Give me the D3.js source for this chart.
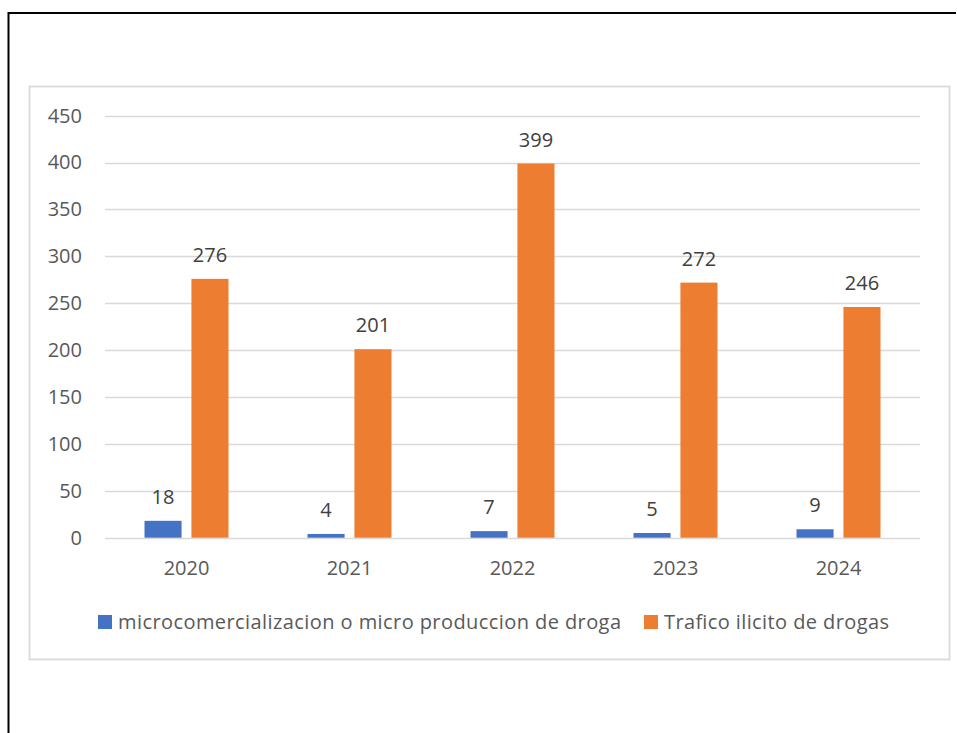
<!DOCTYPE html>
<html>
<head>
<meta charset="utf-8">
<script src="https://cdn.jsdelivr.net/npm/d3@7"></script>
<style>
  html, body { margin: 0; padding: 0; background: #fff; overflow: hidden; }
  svg { display: block; font-family: "Open Sans", sans-serif; }
</style>
</head>
<body>
<div id="chart"></div>
<script>
// data
let years = ["2020", "2021", "2022", "2023", "2024"];
let microValues = [18, 4, 7, 5, 9];
let traficoValues = [276, 201, 399, 272, 246];
let seriesNames = ["microcomercializacion o micro produccion de droga", "Trafico ilicito de drogas"];
let seriesColors = ["#4472C4", "#ED7D31"];
let yTickValues = [0, 50, 100, 150, 200, 250, 300, 350, 400, 450];

let width = 957, height = 733;
let fontSize = 20;

let svg = d3.select("#chart").append("svg")
    .attr("width", width)
    .attr("height", height);

// outer black frame, only its top and left edges are on the page
let frame = d3.path();
frame.moveTo(8.5, height);
frame.lineTo(8.5, 13);
frame.lineTo(width - 1, 13);
svg.append("path")
    .attr("d", frame.toString())
    .attr("fill", "none")
    .attr("stroke", "#000")
    .attr("stroke-width", 2);

// chart area border
svg.append("rect")
    .attr("x", 29.5).attr("y", 86.5)
    .attr("width", 920).attr("height", 573)
    .attr("fill", "#fff")
    .attr("stroke", "#d9d9d9")
    .attr("stroke-width", 1.8);

let plotLeft = 105, plotRight = 920;

let y = d3.scaleLinear()
    .domain([0, 450])
    .range([537.7, 115.7]);

let x0 = d3.scaleBand()
    .domain(years)
    .range([plotLeft, plotRight]);

let groupWidth = 84;
let x1 = d3.scaleBand()
    .domain(seriesNames)
    .range([(x0.bandwidth() - groupWidth) / 2, (x0.bandwidth() + groupWidth) / 2])
    .paddingInner(0.21);

// gridlines
svg.append("g")
    .selectAll("line")
    .data(yTickValues)
    .enter()
    .append("line")
    .attr("x1", plotLeft)
    .attr("x2", plotRight)
    .attr("y1", d => Math.round(y(d)) + 0.5)
    .attr("y2", d => Math.round(y(d)) + 0.5)
    .attr("stroke", "#d9d9d9")
    .attr("stroke-width", 1.5);

// y axis labels
let yAxis = d3.axisLeft(y)
    .tickValues(yTickValues)
    .tickSize(0)
    .tickPadding(0);

let yAxisG = svg.append("g")
    .attr("transform", "translate(82,0)")
    .call(yAxis);
yAxisG.select(".domain").remove();
yAxisG.selectAll("text")
    .attr("fill", "#595959")
    .style("font-size", fontSize + "px")
    .style("font-family", "'Open Sans', sans-serif");

// x axis labels
let xAxis = d3.axisBottom(x0)
    .tickSize(0)
    .tickPadding(0);

let xAxisG = svg.append("g")
    .attr("transform", "translate(0,561)")
    .call(xAxis);
xAxisG.select(".domain").remove();
xAxisG.selectAll("text")
    .attr("fill", "#595959")
    .style("font-size", fontSize + "px")
    .style("font-family", "'Open Sans', sans-serif");

// bars
let rows = years.map(function(yr, i) {
    return { year: yr, values: [microValues[i], traficoValues[i]] };
});

let group = svg.selectAll(".group")
    .data(rows)
    .enter()
    .append("g")
    .attr("class", "group")
    .attr("transform", d => "translate(" + x0(d.year) + ",0)");

let bars = group.selectAll(".bar")
    .data(d => d.values.map((v, j) => ({ name: seriesNames[j], value: v, color: seriesColors[j] })))
    .enter();

bars.append("rect")
    .attr("class", "bar")
    .attr("x", d => x1(d.name))
    .attr("width", x1.bandwidth())
    .attr("y", d => y(d.value))
    .attr("height", d => y(0) - y(d.value))
    .attr("fill", d => d.color);

bars.append("text")
    .attr("x", d => x1(d.name) + x1.bandwidth() / 2)
    .attr("y", d => y(d.value) - 17)
    .attr("text-anchor", "middle")
    .attr("fill", "#404040")
    .style("font-size", fontSize + "px")
    .text(d => d.value);

// legend
let legendX = [98, 644];
let legendTextWidth = [503, 225];
let legend = svg.selectAll(".legend")
    .data(seriesNames)
    .enter()
    .append("g")
    .attr("class", "legend")
    .attr("transform", (d, i) => "translate(" + legendX[i] + ",615)");

legend.append("rect")
    .attr("width", 14)
    .attr("height", 14)
    .attr("fill", (d, i) => seriesColors[i]);

legend.append("text")
    .attr("x", 20)
    .attr("y", 14)
    .attr("fill", "#595959")
    .attr("textLength", (d, i) => legendTextWidth[i])
    .attr("lengthAdjust", "spacing")
    .style("font-size", fontSize + "px")
    .text(d => d);
</script>
</body>
</html>
